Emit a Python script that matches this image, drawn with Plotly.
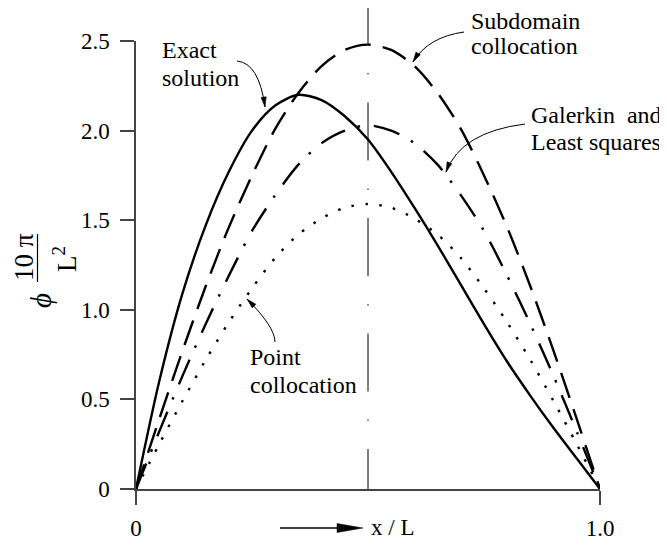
import plotly.graph_objects as go

# ---------------- data ----------------
x_vals = [0.0, 0.05, 0.10, 0.15, 0.20, 0.25, 0.30, 0.35, 0.40, 0.45, 0.50,
          0.55, 0.60, 0.65, 0.70, 0.75, 0.80, 0.85, 0.90, 0.95, 1.0]
exact_solution = [0.0, 0.60, 1.09, 1.47, 1.77, 2.00, 2.14, 2.20, 2.17, 2.08, 1.95,
                  1.77, 1.57, 1.36, 1.14, 0.92, 0.71, 0.52, 0.34, 0.17, 0.0]
subdomain_collocation = [0.0, 0.39, 0.77, 1.13, 1.46, 1.75, 2.01, 2.21, 2.36, 2.45, 2.48,
                         2.45, 2.36, 2.21, 2.01, 1.75, 1.46, 1.13, 0.77, 0.39, 0.0]
galerkin_least_squares = [0.0, 0.32, 0.63, 0.92, 1.19, 1.44, 1.64, 1.81, 1.93, 2.00, 2.03,
                          2.00, 1.93, 1.81, 1.64, 1.44, 1.19, 0.92, 0.63, 0.32, 0.0]
point_collocation = [0.0, 0.25, 0.49, 0.72, 0.93, 1.12, 1.29, 1.42, 1.51, 1.57, 1.59,
                     1.57, 1.51, 1.42, 1.29, 1.12, 0.93, 0.72, 0.49, 0.25, 0.0]
y_tick_vals = [0, 0.5, 1.0, 1.5, 2.0, 2.5]
y_tick_text = ["0", "0.5", "1.0", "1.5", "2.0", "2.5"]
x_tick_vals = [0, 1.0]
x_tick_text = ["0", "1.0"]

# ---------------- geometry helpers (decoration only) ----------------
# The page body has an 8px margin, so figure coordinates = screen - 8.
OFF = 8
W, H = 667, 545
PLOT_L, PLOT_T, PW, PH = 136, 41, 464, 448     # plot area in screen pixels
ML = PLOT_L - OFF
MT = PLOT_T - OFF
MR = W - ML - PW
MB = H - MT - PH


def px(xs):
    return (xs - PLOT_L) / PW


def py(ys):
    return (PLOT_T + PH - ys) / PH


FONT = "Liberation Serif"
INK = "black"
AX = "#444444"

fig = go.Figure()

series = [
    (exact_solution, "solid"),
    (subdomain_collocation, "26px,12px"),
    (galerkin_least_squares, "27px,13px,2.5px,14px"),
    (point_collocation, "2.5px,11.5px"),
]
for ys, dash in series:
    fig.add_trace(go.Scatter(
        x=x_vals, y=ys, mode="lines",
        line=dict(color=INK, width=2.4, dash=dash, shape="spline", smoothing=0.8),
        showlegend=False, hoverinfo="skip"))

shapes = []
# centre line at x = 0.5
shapes.append(dict(type="line", xref="paper", yref="paper",
                   x0=0.5, x1=0.5, y0=py(-13), y1=0,
                   line=dict(color=INK, width=1, dash="58px,28px,1.5px,28px")))


def curved_arrow(S, C, E, head_len=10, head_w=2.6):
    path = "M {},{} Q {},{} {},{}".format(px(S[0]), py(S[1]), px(C[0]), py(C[1]),
                                          px(E[0]), py(E[1]))
    shapes.append(dict(type="path", xref="paper", yref="paper", path=path,
                       line=dict(color=INK, width=1)))
    dx, dy = E[0] - C[0], E[1] - C[1]
    n = (dx * dx + dy * dy) ** 0.5
    dx, dy = dx / n, dy / n
    bx, by = E[0] - head_len * dx, E[1] - head_len * dy
    nx, ny = -dy, dx
    p1 = (bx + head_w * nx, by + head_w * ny)
    p2 = (bx - head_w * nx, by - head_w * ny)
    hp = "M {},{} L {},{} L {},{} Z".format(px(E[0]), py(E[1]), px(p1[0]), py(p1[1]),
                                           px(p2[0]), py(p2[1]))
    shapes.append(dict(type="path", xref="paper", yref="paper", path=hp,
                       fillcolor=INK, line=dict(color=INK, width=0.5)))


curved_arrow((237, 61), (259, 63), (265, 107))      # Exact solution
curved_arrow((464, 32), (428, 37), (413, 62))       # Subdomain collocation
curved_arrow((525, 124), (461, 132), (446, 172))    # Galerkin and Least squares
curved_arrow((275, 342), (275, 327), (247, 299))    # Point collocation

# x/L arrow
shapes.append(dict(type="line", xref="paper", yref="paper",
                   x0=px(280), x1=px(342), y0=py(528), y1=py(528),
                   line=dict(color=INK, width=1.5)))
shapes.append(dict(type="path", xref="paper", yref="paper",
                   path="M {},{} L {},{} L {},{} Z".format(px(363), py(528), px(337), py(523.5),
                                                          px(337), py(532.5)),
                   fillcolor=INK, line=dict(color=INK, width=0.5)))
# fraction bar of y title
shapes.append(dict(type="line", xref="paper", yref="paper",
                   x0=px(37.5), x1=px(37.5), y0=py(234), y1=py(282),
                   line=dict(color=INK, width=1.2)))

annotations = []


def label(text, xs, ys, size=24, anchor="left", angle=0):
    annotations.append(dict(text=text, x=px(xs), y=py(ys), xref="paper", yref="paper",
                            showarrow=False, xanchor=anchor, yanchor="middle",
                            textangle=angle, borderpad=0,
                            font=dict(family=FONT, size=size, color=INK)))


label("Exact", 161, 50)
label("solution", 161, 78)
label("Subdomain", 470, 21)
label("collocation", 470, 46)
label("Galerkin\u00a0\u00a0and", 530, 115)
label("Least squares", 530, 142)
label("Point", 249, 357)
label("collocation", 249, 385)
label("x / L", 392, 527, size=23, anchor="center")
label("<i>\u03d5</i>", 41, 301, size=29, anchor="center", angle=-90)
label("10 \u03c0", 24, 257, size=27, anchor="center", angle=-90)
label("L<sup>2</sup>", 65, 259, size=27, anchor="center", angle=-90)

fig.update_layout(
    template="none",
    width=W, height=H, autosize=False,
    margin=dict(l=ML, r=MR, t=MT, b=MB, pad=0),
    paper_bgcolor="white", plot_bgcolor="white",
    font=dict(family=FONT, color=INK, size=23),
    shapes=shapes, annotations=annotations,
    xaxis=dict(range=[0, 1], tickvals=x_tick_vals, ticktext=x_tick_text,
               ticks="outside", ticklen=14, tickwidth=1.5, tickcolor=AX,
               showline=True, linecolor=AX, linewidth=1.5, automargin=False,
               showgrid=False, zeroline=False, ticklabelstandoff=4,
               tickfont=dict(family=FONT, size=23, color=INK)),
    yaxis=dict(range=[0, 2.5], tickvals=y_tick_vals, ticktext=y_tick_text,
               ticks="outside", ticklen=14, tickwidth=1.5, tickcolor=AX,
               showline=True, linecolor=AX, linewidth=1.5, automargin=False,
               showgrid=False, zeroline=False, ticklabelstandoff=6,
               tickfont=dict(family=FONT, size=23, color=INK)),
)

fig.write_html("out.html")
